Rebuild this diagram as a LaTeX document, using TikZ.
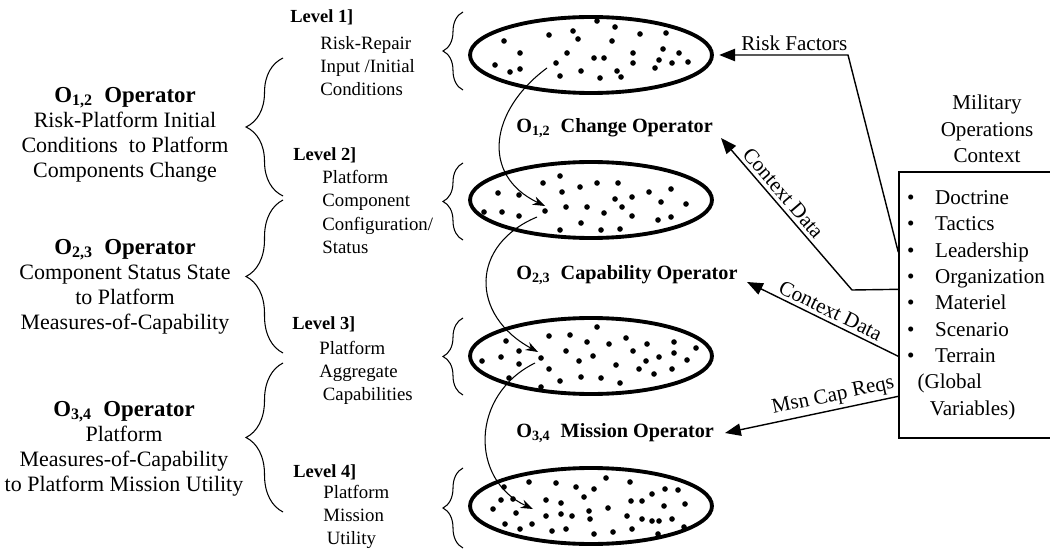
\documentclass[tikz,border=0pt]{standalone}
\usepackage{fontspec}
\setmainfont{Liberation Serif}
\usepackage{tikz}
\usetikzlibrary{arrows.meta,positioning,calc,shapes.geometric,decorations.pathreplacing}

\tikzset{
  levelset/.style={draw,ellipse,line width=2.2pt,minimum width=4.84cm,
    minimum height=1.52cm,inner sep=0pt},
  dot/.style={circle,fill,inner sep=0pt,minimum size=3.2pt},
  lvlhead/.style={anchor=west,inner sep=0pt,font=\fontsize{10.5}{12}\selectfont\bfseries},
  lvltext/.style={anchor=west,align=left,inner sep=0pt,
    font=\fontsize{10.7}{13.3}\selectfont},
  opblock/.style={align=center,inner sep=0pt,font=\fontsize{12.5}{14.3}\selectfont},
  oplabel/.style={anchor=west,inner sep=0pt,font=\fontsize{11.5}{13}\selectfont\bfseries},
  bigbrace/.style={decorate,decoration={brace,amplitude=0.74cm},line width=0.6pt},
  smallbrace/.style={decorate,decoration={brace,amplitude=0.4cm},line width=0.6pt},
  flow/.style={-{Stealth[length=7pt,width=5pt]},line width=0.6pt},
  feed/.style={-{Triangle[length=9pt,width=7pt]},line width=0.8pt},
  feedlabel/.style={font=\fontsize{12}{14}\selectfont,sloped,above,inner sep=2pt},
  ctxbox/.style={draw,line width=0.8pt,minimum width=3.12cm,minimum height=5.32cm,
    text width=2.8cm,align=left,inner sep=0pt,font=\fontsize{12}{15}\selectfont}
}
\newcommand{\ctxitem}[1]{\makebox[16pt][l]{\textbullet}#1}

\begin{document}
\begin{tikzpicture}[x=0.02cm,y=-0.02cm]
  \useasboundingbox (0,0) rectangle (1050,550);

  % the four level sets
  \node[levelset] (e1) at (591,55) {};
  \node[levelset] (e2) at (591,200) {};
  \node[levelset] (e3) at (591,356) {};
  \node[levelset] (e4) at (591,506) {};

  \begin{scope}[shift={(e1.center)}]
    \foreach \dx/\dy in {6/-34,24/-28,-18/-24,-42/-20,49/-21,75/-22,-87/-14,-13/-16,
      21/-14,-71/-2,-24/-2,42/-2,72/-6,88/-2,3/3,13/3,-96/10,-35/8,42/8,68/5,81/8,
      97/7,-81/17,-71/14,-31/21,-10/16,9/23,26/16,30/22,64/13}
      \node[dot] at (\dx,\dy) {};
    \coordinate (f1a) at (-44,13);
  \end{scope}
  \begin{scope}[shift={(e2.center)}]
    \foreach \dx/\dy in {-31/-24,-48/-17,-11/-13,6/-17,27/-17,-93/-7,-72/-5,-29/-8,
      58/-8,80/-11,24/-1,41/-3,70/2,95/4,-107/12,-89/12,-72/16,-46/11,-25/7,-4/7,
      13/13,31/7,41/16,67/20,80/17,-10/23,-31/30,10/30,29/29}
      \node[dot] at (\dx,\dy) {};
    \coordinate (f1b) at (-46,6);
    \coordinate (f2a) at (-54,17);
  \end{scope}
  \begin{scope}[shift={(e3.center)}]
    \foreach \dx/\dy in {6/-29,-42/-20,-21/-21,-85/-15,-4/-14,18/-12,35/-18,56/-12,
      83/-14,105/-8,-72/-5,-25/-5,42/-5,83/-3,-109/5,-90/1,-50/2,2/0,-12/5,25/9,
      55/5,68/1,96/4,-72/8,-42/13,48/13,81/13,-82/22,-31/25,-10/21,10/22,29/27,
      63/18,-50/31}
      \node[dot] at (\dx,\dy) {};
    \coordinate (f2b) at (-53,-4);
    \coordinate (f3a) at (-56,7);
  \end{scope}
  \begin{scope}[shift={(e4.center)}]
    \foreach \dx/\dy in {15/-28,-62/-24,-35/-23,-15/-19,3/-17,39/-24,-87/-19,-78/-7,
      74/-17,87/-16,61/-12,-45/-6,-30/-3,-7/-9,40/-5,51/-5,-90/-6,-98/3,-75/7,-2/5,
      17/2,73/0,94/-2,-45/10,-30/8,-19/10,-1/13,36/10,51/13,61/15,68/15,81/13,
      -86/18,-71/23,-59/18,-39/25,-25/23,3/28,22/26,41/23,67/28,93/21}
      \node[dot] at (\dx,\dy) {};
    \coordinate (f3b) at (-58,3);
  \end{scope}

  % operators between the levels
  \draw[flow] (f1a) .. controls (490,110) and (480,175) .. (f1b);
  \draw[flow] (f2a) .. controls (470,245) and (470,315) .. (f2b);
  \draw[flow] (f3a) .. controls (470,395) and (470,480) .. (f3b);

  \node[oplabel] (op12) at (516,128) {O\textsubscript{1,2}\ \ Change Operator};
  \node[oplabel] (op23) at (516,275) {O\textsubscript{2,3}\ \ Capability Operator};
  \node[oplabel] (op34) at (516,433) {O\textsubscript{3,4}\ \ Mission Operator};

  % level names
  \node[lvlhead] (lv1) at (290,17) {Level 1]};
  \node[lvltext] (lv1t) at (320,66) {Risk-Repair\\Input /Initial\\Conditions};
  \node[lvlhead] (lv2) at (293,155) {Level 2]};
  \node[lvltext] (lv2t) at (322,212) {Platform\\Component\\Configuration/\\Status};
  \node[lvlhead] (lv3) at (292,324) {Level 3]};
  \node[lvltext] (lv3t) at (319,373) {Platform\\Aggregate\\\hspace*{2pt}Capabilities};
  \node[lvlhead] (lv4) at (293,472) {Level 4]};
  \node[lvltext] (lv4t) at (323,517) {Platform\\Mission\\\hspace*{2pt}Utility};

  \foreach \ya/\yb in {90/12,240/163,395/318,548/468}
    \draw[smallbrace] (463,\ya) -- (463,\yb);

  % operator descriptions
  \foreach \ya/\yb in {196/58,353/200,512/363}
    \draw[bigbrace] (283,\ya) -- (283,\yb);

  \node[opblock] (o12) at (125,135) {{\fontsize{13}{15}\selectfont\bfseries
    O\textsubscript{1,2}\ \ Operator}\\Risk-Platform Initial\\Conditions\ \ to Platform\\
    Components Change};
  \node[opblock] (o23) at (125,287) {{\fontsize{13}{15}\selectfont\bfseries
    O\textsubscript{2,3}\ \ Operator}\\Component Status State\\to Platform\\
    Measures-of-Capability};
  \node[opblock] (o34) at (124,449) {{\fontsize{13}{15}\selectfont\bfseries
    O\textsubscript{3,4}\ \ Operator}\\Platform\\Measures-of-Capability\\
    to Platform Mission Utility};

  % context
  \node[align=center,inner sep=0pt,font=\fontsize{12}{15}\selectfont] (ctxtitle)
    at (987,129) {Military\\Operations\\Context};
  \node[ctxbox] (ctx) at (977,305) {\ctxitem{Doctrine}\\\ctxitem{Tactics}\\
    \ctxitem{Leadership}\\\ctxitem{Organization}\\\ctxitem{Materiel}\\
    \ctxitem{Scenario}\\\ctxitem{Terrain}\\\hspace*{6pt}(Global\\
    \hspace*{13pt}Variables)};

  \coordinate (rfout) at ($(ctx.north west)+(0,81)$);
  \coordinate (cd1out) at ($(ctx.north west)+(0,118)$);
  \coordinate (cd2out) at ($(ctx.north west)+(0,185)$);
  \coordinate (msnout) at ($(ctx.north west)+(0,225)$);
  \coordinate (cd1tip) at (721,138);
  \coordinate (cd2tip) at (747,282);
  \coordinate (msntip) at (725,433);

  \draw[feed,shorten >=3pt] (rfout) -- (848,55)
    -- node[pos=0.4,above,inner sep=2pt,font=\fontsize{12}{14}\selectfont] {Risk Factors} (e1.east);
  \draw[feed] (cd1out) -- (852,290) -- node[feedlabel,pos=0.59] {Context Data} (cd1tip);
  \draw[feed] (cd2out) -- node[feedlabel,pos=0.48] {Context Data} (cd2tip);
  \draw[feed] (msnout) -- node[feedlabel,pos=0.36] {Msn Cap Reqs} (msntip);
\end{tikzpicture}
\end{document}
